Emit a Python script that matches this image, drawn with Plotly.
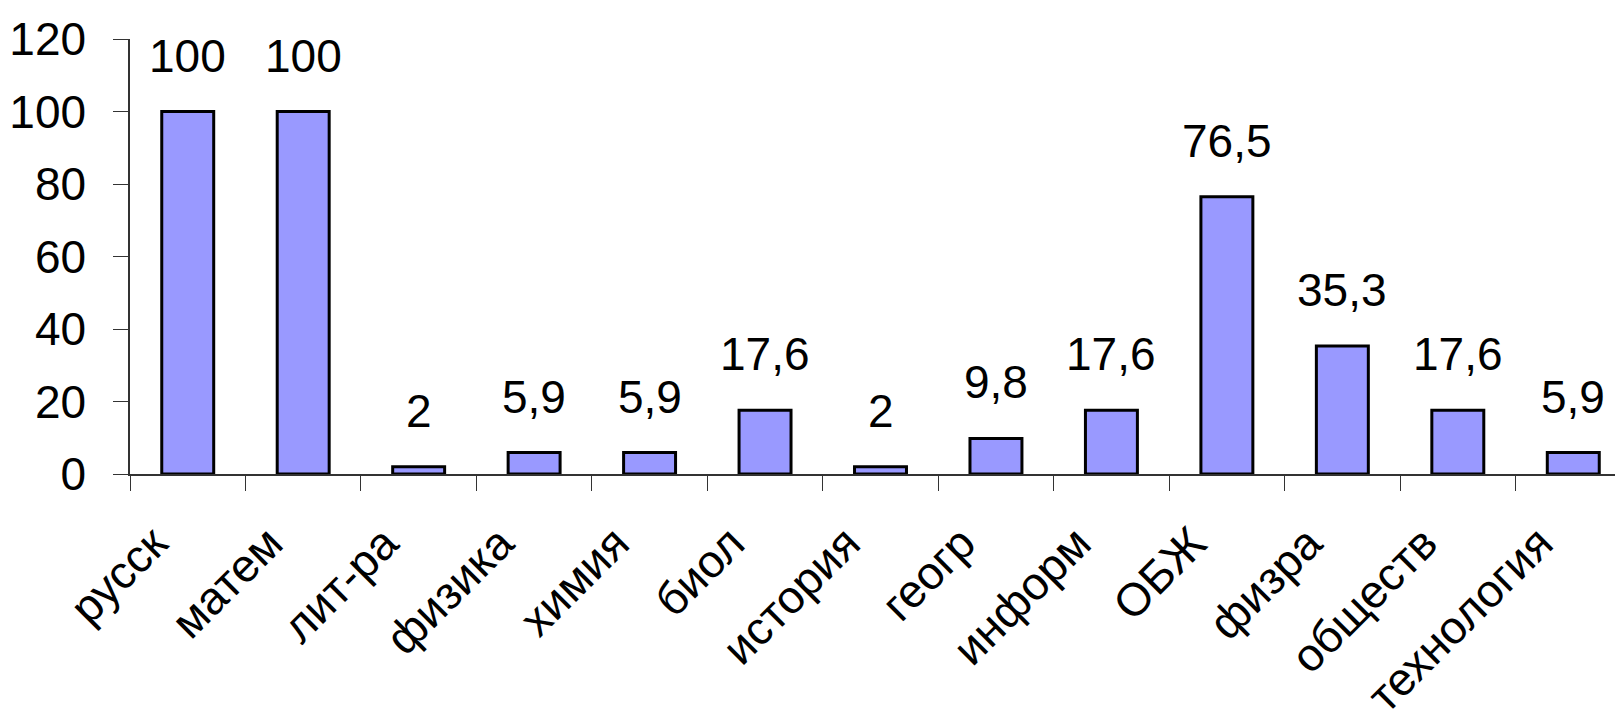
import plotly.graph_objects as go

categories = ["русск", "матем", "лит-ра", "физика", "химия", "биол", "история",
              "геогр", "информ", "ОБЖ", "физра", "обществ", "технология"]
values = [100, 100, 2, 5.9, 5.9, 17.6, 2, 9.8, 17.6, 76.5, 35.3, 17.6, 5.9]
value_labels = [("%g" % v).replace(".", ",") for v in values]
y_ticks = [0, 20, 40, 60, 80, 100, 120]

FONT = "Liberation Sans, Arial, sans-serif"

fig = go.Figure()
fig.add_trace(go.Bar(
    x=categories, y=values,
    marker=dict(color="#9999FF", line=dict(color="black", width=3)),
))

for c, v, t in zip(categories, values, value_labels):
    fig.add_annotation(x=c, y=v, text=t, showarrow=False, yanchor="bottom",
                       yshift=28, font=dict(family=FONT, size=46, color="black"))

fig.update_layout(
    width=1623, height=717,
    margin=dict(l=122, r=0, t=31, b=251),
    plot_bgcolor="white", paper_bgcolor="white",
    bargap=0.55, showlegend=False,
    font=dict(family=FONT, size=46, color="black"),
)
fig.update_xaxes(
    automargin=False,
    showline=True, linecolor="#333333", linewidth=1.5,
    ticks="outside", tickson="boundaries", ticklen=15, tickcolor="#333333",
    tickangle=-45, showgrid=False, ticklabelshift=-34, ticklabelstandoff=22,
    tickfont=dict(family=FONT, size=46, color="black"),
)
fig.update_yaxes(
    automargin=False,
    range=[0, 120], tickvals=y_ticks, showgrid=False, zeroline=False,
    showline=True, linecolor="#333333", linewidth=1.5,
    ticks="outside", ticklen=15, tickcolor="#333333", ticklabelstandoff=18,
    tickfont=dict(family=FONT, size=46, color="black"),
)

fig.write_html("out.html")
